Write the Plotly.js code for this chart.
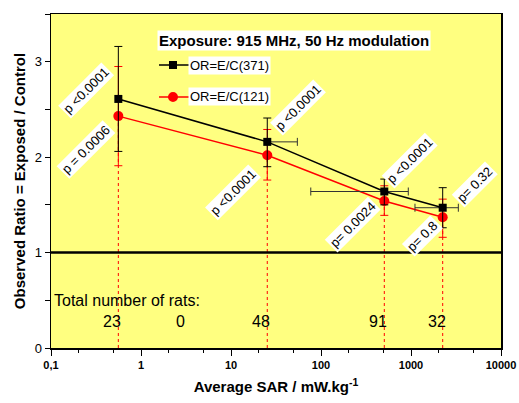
<!DOCTYPE html>
<html>
<head>
<meta charset="utf-8">
<script src="https://cdn.plot.ly/plotly-3.0.1.min.js"></script>
<style>html,body{margin:0;padding:0;background:#fff;}#chart{width:519px;height:403px;}</style>
</head>
<body>
<div id="chart"></div>
<script>
// ---- data ----
const sar = [0.56, 25.3, 505, 2250];
const orBlack = [2.61, 2.16, 1.64, 1.47];
const blackErrPlus = [0.55, 0.25, 0.13, 0.21];
const blackErrMinus = [0.55, 0.26, 0.14, 0.21];
const blackXErrPlus = [0, 29.3, 428, 1107];
const blackXErrMinus = [0, 0, 428, 1143];
const orRed = [2.43, 2.02, 1.54, 1.37];
const redErrPlus = [0.52, 0.27, 0.16, 0.19];
const redErrMinus = [0.52, 0.26, 0.15, 0.21];
const blackName = 'OR=E/C(371)';
const redName = 'OR=E/C(121)';
const pLabels = ['p <0.0001', 'p = 0.0006', 'p <0.0001', 'p <0.0001', 'p <0.0001', 'p= 0.0024', 'p= 0.32', 'p= 0.8'];
const pX = [0.245, 0.245, 55.5, 10.5, 975, 227, 5140, 1325];
const pY = [2.70, 2.08, 2.52, 1.63, 1.96, 1.29, 1.71, 1.17];
const ratCounts = ['23', '0', '48', '91', '32'];
const ratX = [0.56, 3.2, 25.3, 505, 2250];
const xTickVals = [0.1, 1, 10, 100, 1000, 10000];
const xTickText = ['0,1', '1', '10', '100', '1000', '10000'];
const yTickVals = [0, 1, 2, 3];

const FONT = 'Arial, "Liberation Sans", sans-serif';
const RED = '#ff0000';

const traces = [];
// dashed red drop lines
sar.forEach((x, i) => {
  traces.push({x: [x, x], y: [0, orRed[i]], mode: 'lines', showlegend: false, hoverinfo: 'skip',
    line: {color: RED, width: 1, dash: '3px,3px'}});
});
traces.push({
  x: sar, y: orRed, name: redName, mode: 'lines+markers', showlegend: false,
  line: {color: RED, width: 1.5},
  marker: {symbol: 'circle', size: 10, color: RED},
  error_y: {type: 'data', symmetric: false, array: redErrPlus, arrayminus: redErrMinus, color: RED, thickness: 1, width: 4}
});
traces.push({
  x: sar, y: orBlack, name: blackName, mode: 'lines+markers', showlegend: false,
  line: {color: '#000', width: 1.5},
  marker: {symbol: 'square', size: 8, color: '#000'},
  error_y: {type: 'data', symmetric: false, array: blackErrPlus, arrayminus: blackErrMinus, color: '#000', thickness: 1, width: 4},
  error_x: {type: 'data', symmetric: false, array: blackXErrPlus, arrayminus: blackXErrMinus, color: '#333', thickness: 1, width: 4}
});

const annotations = [];
pLabels.forEach((t, i) => {
  annotations.push({x: Math.log10(pX[i]), y: pY[i], xref: 'x', yref: 'y', text: t, showarrow: false,
    xanchor: 'center', yanchor: 'middle',
    textangle: -45, bgcolor: '#fff', borderpad: 1, font: {family: FONT, size: 13, color: '#000'}});
});
annotations.push({x: 0.54, y: 0.922, xref: 'paper', yref: 'paper', xanchor: 'center', yanchor: 'middle',
  text: '<b>Exposure: 915 MHz, 50 Hz modulation</b>',
  showarrow: false, bgcolor: '#fff', borderpad: 1, font: {family: FONT, size: 15, color: '#000'}});
// legend texts
annotations.push({x: 0.3044, y: 0.8473, xref: 'paper', yref: 'paper', xanchor: 'left', yanchor: 'middle', text: blackName,
  showarrow: false, bgcolor: '#fff', borderpad: 1, font: {family: FONT, size: 13, color: '#000'}});
annotations.push({x: 0.3044, y: 0.7515, xref: 'paper', yref: 'paper', xanchor: 'left', yanchor: 'middle', text: redName,
  showarrow: false, bgcolor: '#fff', borderpad: 1, font: {family: FONT, size: 13, color: '#000'}});
annotations.push({x: 0.003, y: 0.1437, xref: 'paper', yref: 'paper', xanchor: 'left', yanchor: 'middle', text: 'Total number of rats:',
  showarrow: false, font: {family: FONT, size: 16, color: '#000'}});
ratCounts.forEach((t, i) => {
  annotations.push({x: Math.log10(ratX[i]), y: 0.078, xref: 'x', yref: 'paper', xanchor: 'center', yanchor: 'middle',
    text: t, showarrow: false, xshift: -6, font: {family: FONT, size: 16, color: '#000'}});
});

const shapes = [
  {type: 'line', xref: 'paper', x0: 0, x1: 1, yref: 'y', y0: 1, y1: 1, line: {color: '#000', width: 2.5}, layer: 'above'},
  // legend symbols
  {type: 'line', xref: 'paper', yref: 'paper', x0: 0.24, x1: 0.3067, y0: 0.8473, y1: 0.8473, line: {color: '#000', width: 1.5}, layer: 'above'},
  {type: 'rect', xref: 'paper', yref: 'paper', x0: 0.2622, x1: 0.28, y0: 0.8353, y1: 0.8593, fillcolor: '#000', line: {width: 0}, layer: 'above'},
  {type: 'line', xref: 'paper', yref: 'paper', x0: 0.24, x1: 0.3067, y0: 0.7515, y1: 0.7515, line: {color: RED, width: 1.5}, layer: 'above'},
  {type: 'circle', xref: 'paper', yref: 'paper', x0: 0.26, x1: 0.2822, y0: 0.7365, y1: 0.7665, fillcolor: RED, line: {width: 0}, layer: 'above'}
];

const layout = {
  width: 519, height: 403,
  margin: {l: 51, r: 18, t: 14, b: 55},
  paper_bgcolor: '#fff', plot_bgcolor: '#ffff80',
  font: {family: FONT, color: '#000'},
  showlegend: false,
  xaxis: {type: 'log', range: [-1, 4], tickvals: xTickVals, ticktext: xTickText, ticks: 'outside', ticklen: 6, tickwidth: 1,
    tickcolor: '#000', showgrid: false, zeroline: false, showline: true, linecolor: '#000', linewidth: 1.5, mirror: true,
    tickfont: {family: FONT, size: 11, weight: 'bold'}, automargin: false,
    minor: {ticks: 'outside', ticklen: 3, tickcolor: '#000', showgrid: false},
    title: {text: '<b>Average SAR / mW.kg<sup>-1</sup></b>', font: {family: FONT, size: 15}, standoff: 12}},
  xaxis2: {type: 'log', range: [-1, 4], overlaying: 'x', side: 'top', anchor: 'y', tickvals: xTickVals, ticks: 'inside', ticklen: 6,
    tickcolor: '#000', showticklabels: false, showgrid: false, zeroline: false,
    minor: {ticks: 'inside', ticklen: 3, tickcolor: '#000', showgrid: false}},
  yaxis: {range: [0, 3.5], tickvals: yTickVals, ticks: 'outside', ticklen: 5, tickcolor: '#000', showgrid: false, zeroline: false,
    showline: true, linecolor: '#000', linewidth: 1.5, mirror: true, tickfont: {family: FONT, size: 13}, automargin: false,
    minor: {dtick: 0.5, ticks: 'outside', ticklen: 5, tickcolor: '#000', showgrid: false},
    title: {text: '<b>Observed Ratio = Exposed / Control</b>', font: {family: FONT, size: 15}, standoff: 5}},
  yaxis2: {range: [0, 3.5], overlaying: 'y', side: 'right', anchor: 'x', dtick: 0.5, ticks: 'inside', ticklen: 5, tickcolor: '#000',
    showticklabels: false, showgrid: false, zeroline: false},
  annotations: annotations,
  shapes: shapes
};

Plotly.newPlot('chart', traces, layout, {displayModeBar: false, staticPlot: true});
</script>
</body>
</html>
